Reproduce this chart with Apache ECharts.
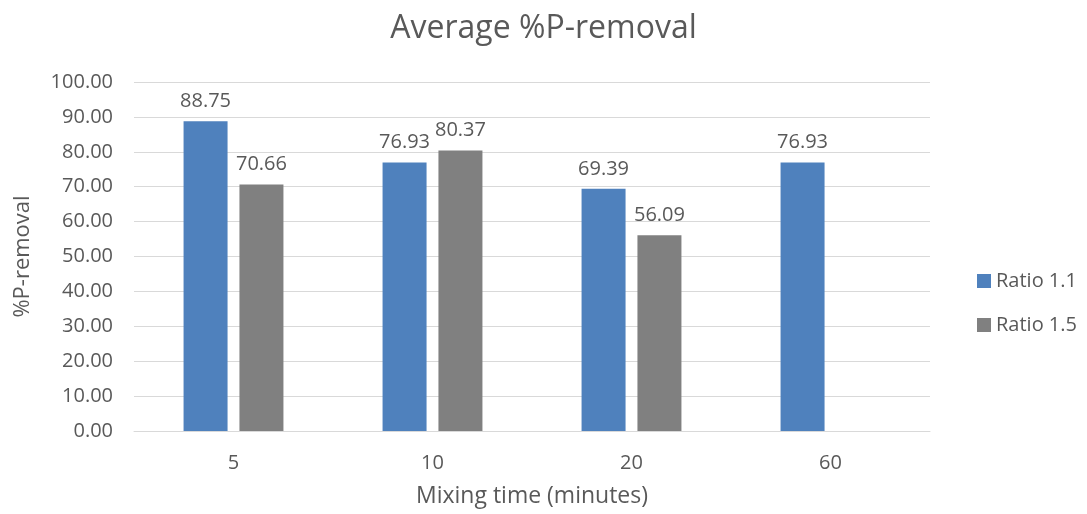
<!DOCTYPE html>
<html>
<head>
<meta charset="utf-8">
<script src="https://cdn.jsdelivr.net/npm/echarts@6/dist/echarts.min.js"></script>
<style>
html,body{margin:0;padding:0;background:#fff;}
#chart{width:1087px;height:514px;}
</style>
</head>
<body>
<div id="chart"></div>
<script>
var categories = ['5', '10', '20', '60'];
var ratio11 = [88.75, 76.93, 69.39, 76.93];
var ratio15 = [70.66, 80.37, 56.09, null];
var seriesNames = ['Ratio 1.1', 'Ratio 1.5'];

var txt = '#595959';
var fnt = '"Open Sans", "Liberation Sans", sans-serif';

var option = {
    backgroundColor: '#fff',
    color: ['#4F81BD', '#808080'],
    textStyle: { fontFamily: fnt },
    title: {
        text: 'Average %P-removal',
        left: 'center',
        top: 8,
        textStyle: { fontSize: 32, fontWeight: 'normal', color: txt, fontFamily: fnt }
    },
    legend: {
        orient: 'vertical',
        left: 972,
        top: 266,
        itemWidth: 14,
        itemHeight: 14,
        itemGap: 24,
        icon: 'rect',
        textStyle: { fontSize: 20, color: txt, fontFamily: fnt },
        data: seriesNames
    },
    grid: { left: 134, right: 157, top: 82, bottom: 83 },
    xAxis: {
        type: 'category',
        data: categories,
        name: 'Mixing time (minutes)',
        nameLocation: 'middle',
        nameGap: 54,
        nameTextStyle: { fontSize: 23, color: txt },
        axisLine: { lineStyle: { color: '#d9d9d9' } },
        axisTick: { show: false },
        axisLabel: { fontSize: 20, color: txt, margin: 22 }
    },
    yAxis: {
        type: 'value',
        min: 0,
        max: 100,
        interval: 10,
        name: '%P-removal',
        nameLocation: 'middle',
        nameGap: 100,
        nameTextStyle: { fontSize: 22, color: txt },
        axisLine: { show: false },
        axisTick: { show: false },
        splitLine: { lineStyle: { color: '#d9d9d9' } },
        axisLabel: {
            fontSize: 20, color: txt, margin: 21,
            formatter: function (v) { return v.toFixed(2); }
        }
    },
    series: [
        {
            name: seriesNames[0],
            type: 'bar',
            data: ratio11,
            barWidth: 44,
            barGap: '27%',
            label: { show: true, position: 'top', distance: 10, fontSize: 20, color: txt,
                formatter: function (p) { return p.value.toFixed(2); } }
        },
        {
            name: seriesNames[1],
            type: 'bar',
            data: ratio15,
            barWidth: 44,
            label: { show: true, position: 'top', distance: 10, fontSize: 20, color: txt,
                formatter: function (p) { return p.value == null ? '' : p.value.toFixed(2); } }
        }
    ]
};

var chart = echarts.init(document.getElementById('chart'));
chart.setOption(option);
</script>
</body>
</html>
